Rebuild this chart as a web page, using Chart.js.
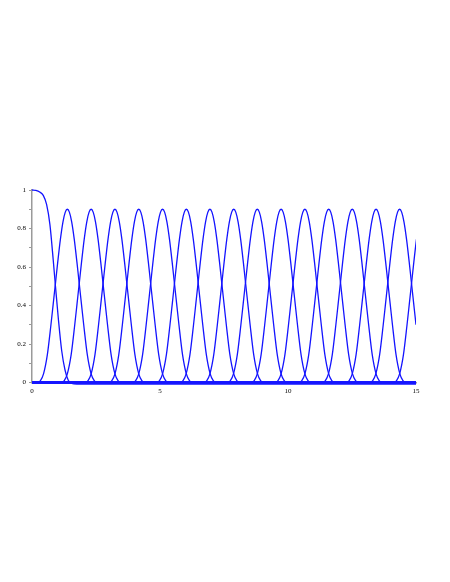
<!DOCTYPE html>
<html>
<head>
<meta charset="utf-8">
<script src="https://cdn.jsdelivr.net/npm/chart.js@4/dist/chart.umd.min.js"></script>
<style>
  html, body { margin: 0; padding: 0; background: #fff; }
  canvas { display: block; }
</style>
</head>
<body>
<canvas id="chart" width="450" height="582"></canvas>
<script>
// axis ranges
const X_MIN = 0, X_MAX = 15, X_STEP = 5;
const Y_MIN = 0, Y_MAX = 1, Y_STEP = 0.1;

// first curve: flat at 1, falls to (slightly below) zero
const FIRST_X = [0, 0.15, 0.3, 0.44, 0.57, 0.70, 0.83, 0.92, 1.03, 1.16, 1.29, 1.42, 1.55, 1.75, 15];
const FIRST_Y = [1, 0.998, 0.99, 0.972, 0.925, 0.82, 0.635, 0.495, 0.33, 0.165, 0.065, 0.01, -0.005, -0.008, -0.008];

// bump peaks
const BUMP_CENTERS = [1.38, 2.31, 3.24, 4.17, 5.10, 6.03, 6.95, 7.88, 8.80, 9.73, 10.66, 11.59, 12.51, 13.44, 14.36, 15.29];

// one bump's profile, relative to its peak
const BUMP_OFFSETS = [-1.15, -1.05, -0.93, -0.78, -0.64, -0.55, -0.46, -0.375, -0.27, -0.17, -0.08, 0,
                      0.08, 0.17, 0.27, 0.375, 0.46, 0.55, 0.64, 0.78, 0.93, 1.05, 1.15];
const BUMP_VALUES  = [0, 0.01, 0.045, 0.145, 0.30, 0.41, 0.52, 0.625, 0.745, 0.835, 0.885, 0.9,
                      0.885, 0.835, 0.745, 0.625, 0.52, 0.41, 0.30, 0.145, 0.045, 0.01, 0];

const LINE_COLOR = 'rgb(20, 20, 255)';
const CLIP = { left: 0, top: 6, right: 0, bottom: 6 };

const datasets = [];

BUMP_CENTERS.forEach((c) => {
    const pts = BUMP_OFFSETS.map((o, i) => ({ x: c + o, y: BUMP_VALUES[i] }));
    if (pts[0].x > X_MIN) pts.unshift({ x: X_MIN, y: 0 });
    if (pts[pts.length - 1].x < X_MAX) pts.push({ x: X_MAX, y: 0 });
    datasets.push({
        data: pts,
        borderColor: LINE_COLOR,
        borderWidth: 1.3,
        pointRadius: 0,
        cubicInterpolationMode: 'monotone',
        fill: false,
        clip: CLIP
    });
});

datasets.push({
    data: FIRST_X.map((x, i) => ({ x: x, y: FIRST_Y[i] })),
    borderColor: LINE_COLOR,
    borderWidth: 1.3,
    pointRadius: 0,
    cubicInterpolationMode: 'monotone',
    fill: false,
    clip: CLIP
});

const tickFont = { family: "'Liberation Serif', 'DejaVu Serif', serif", size: 7 };

new Chart(document.getElementById('chart'), {
    type: 'line',
    data: { datasets: datasets },
    options: {
        responsive: false,
        animation: false,
        devicePixelRatio: 1,
        layout: { padding: { top: 190, right: 34, bottom: 185.5, left: 0 } },
        plugins: {
            legend: { display: false },
            tooltip: { enabled: false }
        },
        scales: {
            x: {
                type: 'linear',
                min: X_MIN,
                max: X_MAX,
                afterFit: (scale) => { scale.height = 14; },
                grid: { drawOnChartArea: false, drawTicks: false },
                border: { display: true, color: '#9a9a9a', width: 1.5 },
                ticks: {
                    stepSize: X_STEP,
                    padding: 4,
                    color: '#000',
                    font: tickFont,
                    maxRotation: 0,
                    callback: (v) => String(v)
                }
            },
            y: {
                min: Y_MIN,
                max: Y_MAX,
                afterFit: (scale) => { scale.width = 32; },
                grid: { drawOnChartArea: false, drawTicks: true, tickLength: 3, color: '#9a9a9a' },
                border: { display: true, color: '#9a9a9a', width: 1.5 },
                ticks: {
                    stepSize: Y_STEP,
                    padding: 3,
                    color: '#000',
                    font: tickFont,
                    autoSkip: false,
                    callback: (v) => {
                        const t = Math.round(v * 10);
                        return t % 2 === 0 ? String(t / 10) : '';
                    }
                }
            }
        }
    }
});
</script>
</body>
</html>
